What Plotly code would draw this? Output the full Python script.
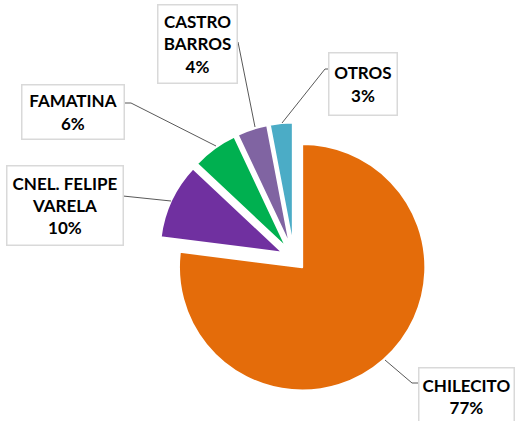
import plotly.graph_objects as go

W, H = 515, 421

labels = ["CHILECITO", "CNEL. FELIPE VARELA", "FAMATINA", "CASTRO BARROS", "OTROS"]
values = [77, 10, 6, 4, 3]
label_text = ["CHILECITO<br>77%", "CNEL. FELIPE<br>VARELA<br>10%", "FAMATINA<br>6%",
              "CASTRO<br>BARROS<br>4%", "OTROS<br>3%"]
colors = ["#E46C0A", "#7030A0", "#00B050", "#8064A2", "#4BACC6"]
pulls = [0.1, 0.1, 0.1, 0.1, 0.1]

# label boxes in pixels: (left, top, right, bottom)
boxes = [(418, 367, 514, 425), (6, 165, 123, 245), (21, 84, 124, 139),
         (157, 4, 237, 83), (328, 52, 397, 115)]
# leader polylines in pixels
leaders = [
    [(385, 360), (412, 383), (418, 383)],
    [(123, 196), (171, 201)],
    [(124, 103), (131, 103), (216, 146)],
    [(238, 42), (255, 127)],
    [(328, 69), (325, 69), (282, 123)],
]

def px(x):
    return x / W

def py(y):
    return 1 - y / H

cx, cy, box = 294, 258, 271
fig = go.Figure(go.Pie(
    labels=labels, values=values, sort=False, direction="clockwise", rotation=0,
    marker=dict(colors=colors, line=dict(color="white", width=2)),
    pull=pulls, textinfo="none", hoverinfo="skip", showlegend=False,
    domain=dict(x=[px(cx - box / 2), px(cx + box / 2)], y=[py(cy + box / 2), py(cy - box / 2)]),
))

shapes = []
for pts in leaders:
    for (x0, y0), (x1, y1) in zip(pts[:-1], pts[1:]):
        shapes.append(dict(type="line", xref="paper", yref="paper",
                           x0=px(x0), y0=py(y0), x1=px(x1), y1=py(y1),
                           line=dict(color="#595959", width=1)))

annotations = []
for t, (l, tp, r, b) in zip(label_text, boxes):
    annotations.append(dict(
        text="<b>" + t.replace("<br>", "</b><br><b>") + "</b>",
        xref="paper", yref="paper", x=px((l + r) / 2), y=py((tp + b) / 2),
        xanchor="center", yanchor="middle", showarrow=False,
        width=r - l - 4, height=b - tp - 4, align="center", valign="middle",
        bgcolor="white", bordercolor="#D9D9D9", borderwidth=1.5, borderpad=1,
        font=dict(family="Lato", size=17, color="#000000"),
    ))

fig.update_layout(
    width=W, height=H, margin=dict(l=0, r=0, t=0, b=0),
    paper_bgcolor="white", plot_bgcolor="white",
    shapes=shapes, annotations=annotations,
)
fig.write_html("out.html", config={"displayModeBar": False},
               post_script="document.body.style.margin='0';")
